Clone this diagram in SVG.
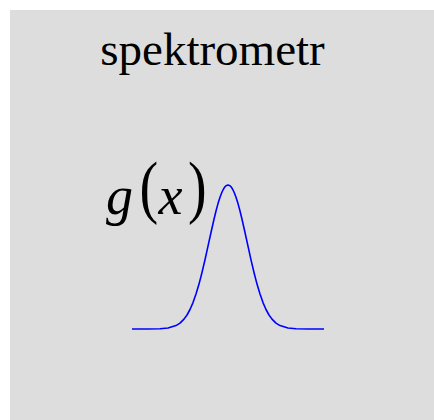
<svg xmlns="http://www.w3.org/2000/svg" width="434" height="420" viewBox="0 0 434 420">
<style>
.t{font-family:"Liberation Serif","Times New Roman","DejaVu Serif",serif;fill:#000}
.i{font-style:italic}
.curve{fill:none;stroke:#0000ff;stroke-width:1.6;stroke-linejoin:round}
</style>
<rect x="10" y="10" width="424" height="410" fill="#dddddd"/>
<g id="title"><text class="t" x="212.5" y="65" font-size="47" text-anchor="middle">spektrometr</text></g>
<g id="label">
<text class="t i" x="106" y="214" font-size="54">g</text>
<text class="t" font-size="56" transform="translate(139.5,210) scale(1,1.25)">(</text>
<text class="t i" x="158.5" y="214" font-size="54">x</text>
<text class="t" font-size="56" transform="translate(188,210) scale(1,1.25)">)</text>
</g>
<g id="gaussian"><polyline class="curve" points="132,329 148,329 160,328.8 168,328 176,325.6 180,323.1 184,319.1 187,315 190,309.5 193,302.6 196,294.1 199,284.1 202,272.5 205,259.8 208,246.2 211,232.5 214,219.3 216,211 218,203.6 220,197.2 222,192 224,188.2 225,186.8 226,185.8 228,185 230,185.8 231,186.8 232,188.2 234,192 236,197.2 238,203.6 240,211 242,219.3 245,232.5 248,246.2 251,259.8 254,272.5 257,284.1 260,294.1 263,302.6 266,309.5 269,315 272,319.1 276,323.1 280,325.6 288,328 296,328.8 308,329 324,329"/></g>
</svg>
